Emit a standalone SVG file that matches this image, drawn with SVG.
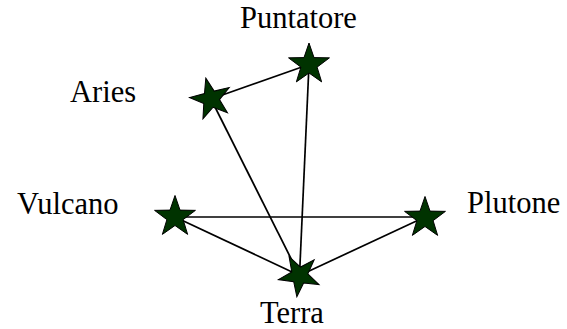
<svg xmlns="http://www.w3.org/2000/svg" width="567" height="329" viewBox="0 0 567 329">
<style>
.lbl{font-family:"Liberation Serif","Times New Roman",serif;font-size:30.5px;fill:#000}
.edge{stroke:#000;stroke-width:1.7;fill:none}
.star{fill:#003300;stroke:#000;stroke-width:1;stroke-linejoin:miter}
</style>
<defs>
<path id="star" d="M0,-21.5 L5,-6.9 L20.45,-6.64 L8.1,2.63 L12.64,17.39 L0,8.5 L-12.64,17.39 L-8.1,2.63 L-20.45,-6.64 L-5,-6.9 Z"/>
</defs>
<rect width="567" height="329" fill="#fff"/>
<g id="connectors">
<line class="edge" x1="211" y1="99" x2="309" y2="64.5"/>
<line class="edge" x1="211" y1="99" x2="299.5" y2="275.5"/>
<line class="edge" x1="309" y1="64.5" x2="299.5" y2="275.5"/>
<line class="edge" x1="175" y1="217" x2="425" y2="217"/>
<line class="edge" x1="175" y1="217" x2="299.5" y2="275.5"/>
<line class="edge" x1="425" y1="217" x2="299.5" y2="275.5"/>
</g>
<g id="puntatore">
<use href="#star" class="star" transform="translate(309,64.5)"/>
<text class="lbl" x="240" y="28">Puntatore</text>
</g>
<g id="aries">
<use href="#star" class="star" transform="translate(211,99) rotate(-14)"/>
<text class="lbl" x="70" y="102">Aries</text>
</g>
<g id="vulcano">
<use href="#star" class="star" transform="translate(175,217)"/>
<text class="lbl" x="17" y="214">Vulcano</text>
</g>
<g id="plutone">
<use href="#star" class="star" transform="translate(425,218)"/>
<text class="lbl" x="467" y="213">Plutone</text>
</g>
<g id="terra">
<use href="#star" class="star" transform="translate(299.5,275.5) rotate(187)"/>
<text class="lbl" x="260" y="323">Terra</text>
</g>
</svg>
